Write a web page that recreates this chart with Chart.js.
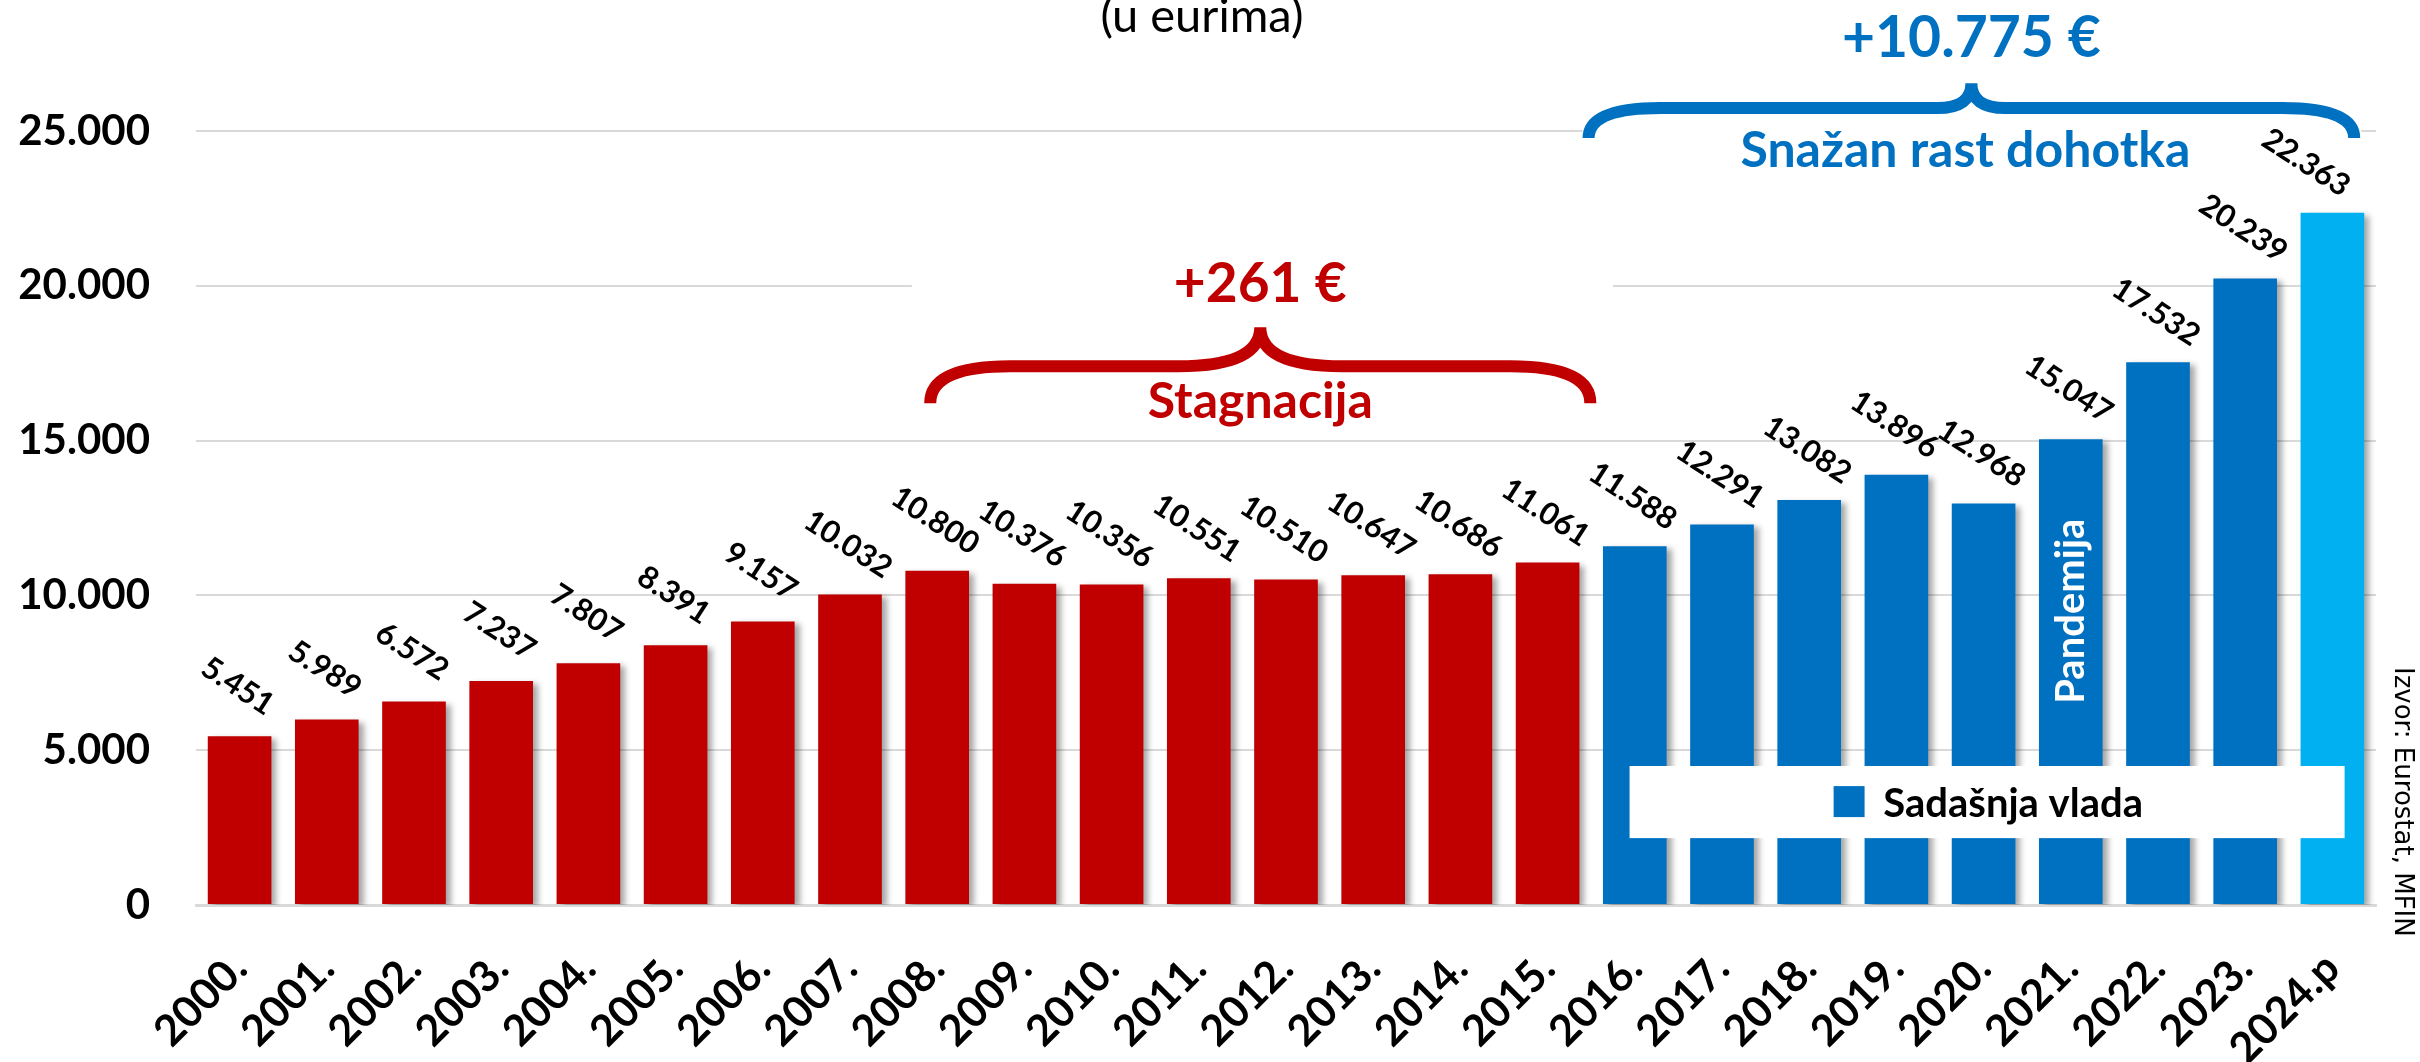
<!DOCTYPE html>
<html lang="hr">
<head>
<meta charset="utf-8">
<title>Dohodak po stanovniku</title>
<script src="https://cdn.jsdelivr.net/npm/chart.js@4.4.1/dist/chart.umd.min.js"></script>
<style>
  html, body { margin:0; padding:0; background:#fff; }
  #wrap { width:2420px; height:1062px; }
</style>
</head>
<body>
<div id="wrap"><canvas id="chart" width="2420" height="1062"></canvas></div>
<script>
// podaci
const years = ['2000.','2001.','2002.','2003.','2004.','2005.','2006.','2007.','2008.','2009.',
  '2010.','2011.','2012.','2013.','2014.','2015.','2016.','2017.','2018.','2019.',
  '2020.','2021.','2022.','2023.','2024.p'];
const income = [5451, 5989, 6572, 7237, 7807, 8391, 9157, 10032, 10800, 10376,
  10356, 10551, 10510, 10647, 10686, 11061, 11588, 12291, 13082, 13896,
  12968, 15047, 17532, 20239, 22363];
const yTicks = [0, 5000, 10000, 15000, 20000, 25000];

const FONT = 'Lato';
const RED = '#C00000', BLUE = '#0070C0', LIGHT = '#00B0F0';

const fmt = v => String(v).replace(/\B(?=(\d{3})+(?!\d))/g, '.');
const barColor = i => years[i].endsWith('p') ? LIGHT : (parseInt(years[i]) >= 2016 ? BLUE : RED);

// helperi za pozicije (indeks kategorije -> px)
function px(chart, idx){
  const a = chart.chartArea;
  return a.left + idx * a.width / years.length;
}
function py(chart, v){ return chart.scales.y.getPixelForValue(v); }

/* ====== sjena stupaca ====== */
const barShadow = {
  id: 'barShadow',
  beforeDatasetDraw(chart){
    const c = chart.ctx;
    c.save();
    c.shadowColor = 'rgba(0,0,0,0.35)';
    c.shadowBlur = 6;
    c.shadowOffsetX = 5;
    c.shadowOffsetY = 3;
  },
  afterDatasetDraw(chart){ chart.ctx.restore(); }
};

/* ====== bijele podloge ispod natpisa ====== */
const masks = {
  id: 'masks',
  beforeDatasetsDraw(chart){
    const c = chart.ctx;
    c.save();
    c.fillStyle = '#fff';
    let x0 = px(chart, 8.21), x1 = px(chart, 16.25);
    c.fillRect(x0, py(chart, 20900), x1 - x0, py(chart, 19100) - py(chart, 20900));
    x0 = px(chart, 15.9); x1 = px(chart, 24.83);
    c.fillRect(x0, py(chart, 25400), x1 - x0, py(chart, 24600) - py(chart, 25400));
    c.restore();
  }
};

function brace(c, x0, x1, yEnd, yMid, yTip, r, r2, color){
  const xc = (x0 + x1) / 2;
  c.save();
  c.strokeStyle = color;
  c.lineWidth = 12;
  c.lineCap = 'butt';
  c.beginPath();
  c.moveTo(x0, yEnd);
  c.quadraticCurveTo(x0, yMid, x0 + r, yMid);
  c.lineTo(xc - r2, yMid);
  c.quadraticCurveTo(xc, yMid, xc, yTip);
  c.moveTo(x1, yEnd);
  c.quadraticCurveTo(x1, yMid, x1 - r, yMid);
  c.lineTo(xc + r2, yMid);
  c.quadraticCurveTo(xc, yMid, xc, yTip);
  c.stroke();
  c.restore();
}

/* ====== natpisi, zagrade, legenda ====== */
const annotations = {
  id: 'annotations',
  afterDatasetsDraw(chart){
    const c = chart.ctx;
    const area = chart.chartArea;

    // vrijednosti iznad stupaca
    const meta = chart.getDatasetMeta(0);
    c.save();
    c.fillStyle = '#000';
    c.font = `bold 31px ${FONT}`;
    c.textAlign = 'center';
    c.textBaseline = 'middle';
    meta.data.forEach((bar, i) => {
      const x = Math.min(bar.x, area.right - 68);
      c.save();
      c.translate(x - 2, bar.y - 50);
      c.rotate(33 * Math.PI / 180);
      c.fillText(fmt(income[i]), 0, 0);
      c.restore();
    });
    c.restore();

    // stagnacija
    let x0 = px(chart, 8.42), x1 = px(chart, 15.99);
    brace(c, x0, x1, py(chart, 16210), py(chart, 17400), py(chart, 18660), 80, 82, RED);
    c.save();
    c.fillStyle = RED;
    c.textAlign = 'center';
    c.textBaseline = 'alphabetic';
    c.font = `bold 55px ${FONT}`;
    c.fillText('+261 €', (x0 + x1) / 2, py(chart, 19470));
    c.font = `bold 50px ${FONT}`;
    c.fillText('Stagnacija', (x0 + x1) / 2, py(chart, 15730));
    c.restore();

    // snažan rast
    x0 = px(chart, 15.97); x1 = px(chart, 24.75);
    brace(c, x0, x1, py(chart, 24770), py(chart, 25740), py(chart, 26540), 72, 34, BLUE);
    c.save();
    c.fillStyle = BLUE;
    c.textAlign = 'center';
    c.textBaseline = 'alphabetic';
    c.font = `bold 57px ${FONT}`;
    c.fillText('+10.775 €', (x0 + x1) / 2, py(chart, 27380));
    c.font = `bold 50px ${FONT}`;
    c.fillText('Snažan rast dohotka', (x0 + x1) / 2 - 6, py(chart, 23830));
    c.restore();

    // pandemija
    const b21 = meta.data[21];
    c.save();
    c.translate(b21.x, py(chart, 9490));
    c.rotate(-Math.PI / 2);
    c.fillStyle = '#fff';
    c.font = `bold 40px ${FONT}`;
    c.textAlign = 'center';
    c.textBaseline = 'middle';
    c.fillText('Pandemija', 0, 0);
    c.restore();

    // legenda
    const lx0 = px(chart, 16.44), lx1 = px(chart, 24.64);
    const ly0 = py(chart, 4490), ly1 = py(chart, 2160);
    c.save();
    c.fillStyle = '#fff';
    c.fillRect(lx0, ly0, lx1 - lx0, ly1 - ly0);
    const sqX = px(chart, 18.78), sqTop = py(chart, 3840), sqBot = py(chart, 2840);
    c.fillStyle = BLUE;
    c.fillRect(sqX, sqTop, sqBot - sqTop, sqBot - sqTop);
    c.fillStyle = '#000';
    c.font = `bold 40px ${FONT}`;
    c.textBaseline = 'alphabetic';
    c.textAlign = 'left';
    c.fillText('Sadašnja vlada', px(chart, 19.35), sqBot);
    c.restore();
  },
  afterDraw(chart){
    const c = chart.ctx;
    // naslov (odrezan na vrhu)
    c.save();
    c.fillStyle = '#000';
    c.font = `47px ${FONT}`;
    c.textAlign = 'center';
    c.textBaseline = 'alphabetic';
    c.fillText('(u eurima)', chart.width / 2 - 8, 32);
    // izvor
    c.translate(2402, 667);
    c.rotate(Math.PI / 2);
    c.font = '26px "DejaVu Sans"';
    c.textAlign = 'left';
    c.textBaseline = 'middle';
    c.fillText('Izvor: Eurostat, MFIN', 0, 0);
    c.restore();
  }
};

document.addEventListener('DOMContentLoaded', () => {
  const ctx = document.getElementById('chart').getContext('2d');
  new Chart(ctx, {
    type: 'bar',
    data: {
      labels: years,
      datasets: [{
        label: 'Dohodak',
        data: income,
        backgroundColor: income.map((_, i) => barColor(i)),
        borderWidth: 0,
        barPercentage: 0.73,
        categoryPercentage: 1
      }]
    },
    options: {
      responsive: false,
      animation: false,
      layout: { padding: { top: 131, right: 44, left: 0, bottom: 0 } },
      plugins: { legend: { display: false }, tooltip: { enabled: false } },
      scales: {
        x: {
          grid: { display: false, drawTicks: false },
          border: { display: true, color: '#D9D9D9', width: 3 },
          ticks: {
            color: '#000',
            font: { family: FONT, size: 43, weight: 'bold' },
            minRotation: 45, maxRotation: 45,
            autoSkip: false,
            padding: 38
          },
          afterFit(s){ s.height = 157; }
        },
        y: {
          min: 0, max: 25000,
          grid: { color: '#D9D9D9', lineWidth: 2, drawTicks: false },
          border: { display: false },
          afterBuildTicks(s){ s.ticks = yTicks.map(v => ({ value: v })); },
          ticks: {
            color: '#000',
            font: { family: FONT, size: 42, weight: 'bold' },
            padding: 46,
            callback: v => fmt(v)
          },
          afterFit(s){ s.width = 196; }
        }
      }
    },
    plugins: [barShadow, masks, annotations]
  });
});
</script>
</body>
</html>
